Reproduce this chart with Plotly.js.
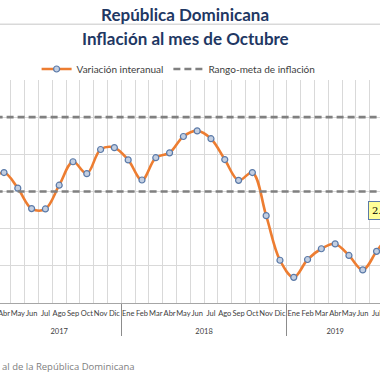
<!DOCTYPE html>
<html>
<head>
<meta charset="utf-8">
<script src="https://cdn.plot.ly/plotly-3.0.1.min.js"></script>
<style>html,body{margin:0;padding:0;background:#fff;}#chart{width:380px;height:380px;}</style>
</head>
<body>
<div id="chart"></div>
<script>
// Data
const years = ["2017","2018","2019"];
const months = ["Ene","Feb","Mar","Abr","May","Jun","Jul","Ago","Sep","Oct","Nov","Dic"];
const monthsPerYear = [12, 12, 10];
const variacion2017 = [null, null, 3.30, 3.51, 3.09, 2.54, 2.53, 3.17, 3.80, 3.48, 4.13, 4.18];
const variacion2018 = [3.85, 3.31, 3.91, 4.04, 4.48, 4.63, 4.42, 3.86, 3.30, 3.51, 2.35, 1.15];
const variacion2019 = [0.69, 1.17, 1.46, 1.59, 1.28, 0.89, 1.39, 1.90, null, null];
const rangoMeta = [3, 5];
const ultimoValorLabel = "2.56%";
const fuente = "al de la República Dominicana";

const xYears = [], xMonths = [];
years.forEach((y, i) => {
  for (let m = 0; m < monthsPerYear[i]; m++) { xYears.push('<br>' + y); xMonths.push(months[m]); }
});
const variacion = variacion2017.concat(variacion2018, variacion2019);

const data = [
  {
    x: [xYears, xMonths], y: variacion,
    type: 'scatter', mode: 'lines+markers', name: 'Variación interanual',
    line: {color: '#ED7D31', width: 2.6, shape: 'spline', smoothing: 1},
    marker: {symbol: 'circle', size: 6, color: '#C3CFE2', line: {color: '#5B7AA8', width: 1.2}}
  },
  {
    x: [xYears, xMonths], y: xMonths.map(() => rangoMeta[1]),
    type: 'scatter', mode: 'lines', name: 'Rango-meta de inflación',
    line: {color: '#808080', width: 2.6, dash: '7px,4px'}, hoverinfo: 'skip'
  },
  {
    x: [xYears, xMonths], y: xMonths.map(() => rangoMeta[0]),
    type: 'scatter', mode: 'lines', name: 'Rango-meta de inflación', showlegend: false,
    line: {color: '#808080', width: 2.6, dash: '7px,4px'}, hoverinfo: 'skip'
  }
];

const fontFam = 'Lato, "Open Sans", sans-serif';
const layout = {
  width: 380, height: 380,
  margin: {l: 0, r: 0, t: 80, b: 76.5, pad: 0},
  paper_bgcolor: '#ffffff', plot_bgcolor: '#ffffff',
  font: {family: fontFam, color: '#404040'},
  title: {
    text: '<b>República Dominicana</b>',
    font: {family: fontFam, size: 17, color: '#1F3864'},
    x: 0.487, xanchor: 'center', y: 1 - 15/380, yanchor: 'middle'
  },
  showlegend: true,
  legend: {
    orientation: 'h', x: 0.47, xanchor: 'center', y: 1 + 11/223.5, yanchor: 'middle',
    font: {family: fontFam, size: 10, color: '#404040'},
    traceorder: 'normal', itemwidth: 30, bgcolor: 'rgba(0,0,0,0)'
  },
  xaxis: {
    type: 'multicategory',
    range: [2.71, 30.25],
    tickson: 'boundaries',
    showgrid: true, gridcolor: '#d9d9d9', gridwidth: 1,
    showline: true, linecolor: '#a6a6a6', linewidth: 1,
    ticks: '', tickangle: 0, ticklabelstandoff: 3,
    tickfont: {family: fontFam, size: 7.5, color: '#404040'},
    showdividers: true, dividercolor: '#8c8c8c', dividerwidth: 1,
    fixedrange: true
  },
  yaxis: {
    range: [0, 6],
    tickvals: [1, 2, 3, 4, 5],
    showticklabels: false, ticks: '',
    showgrid: true, gridcolor: '#d9d9d9', gridwidth: 1,
    zeroline: false, showline: false, fixedrange: true
  },
  shapes: [
    {type: 'line', xref: 'paper', yref: 'paper', x0: 0, x1: 1, y0: 1 + 56/223.5, y1: 1 + 56/223.5,
     line: {color: '#d9d9d9', width: 1.5}}
  ],
  annotations: [
    {text: '<b>Inflación al mes de Octubre</b>', xref: 'paper', yref: 'paper',
     x: 0.487, y: 1 + 42/223.5, xanchor: 'center', yanchor: 'middle', showarrow: false,
     font: {family: fontFam, size: 17, color: '#1F3864'}},
    {text: fuente, xref: 'paper', yref: 'paper', x: 0, y: -(367 - 303.5)/223.5,
     xanchor: 'left', yanchor: 'middle', showarrow: false,
     font: {family: '"Open Sans", sans-serif', size: 9.5, color: '#808080'}},
    {text: ultimoValorLabel, xref: 'paper', yref: 'y', x: 368/380, y: 2.5,
     xanchor: 'left', yanchor: 'middle', showarrow: false,
     bgcolor: '#FFFF99', bordercolor: '#5B7AA8', borderwidth: 1, borderpad: 3,
     font: {family: '"DejaVu Serif", serif', size: 10, color: '#000000'}}
  ]
};

Plotly.newPlot('chart', data, layout, {displayModeBar: false, staticPlot: true});
</script>
</body>
</html>
